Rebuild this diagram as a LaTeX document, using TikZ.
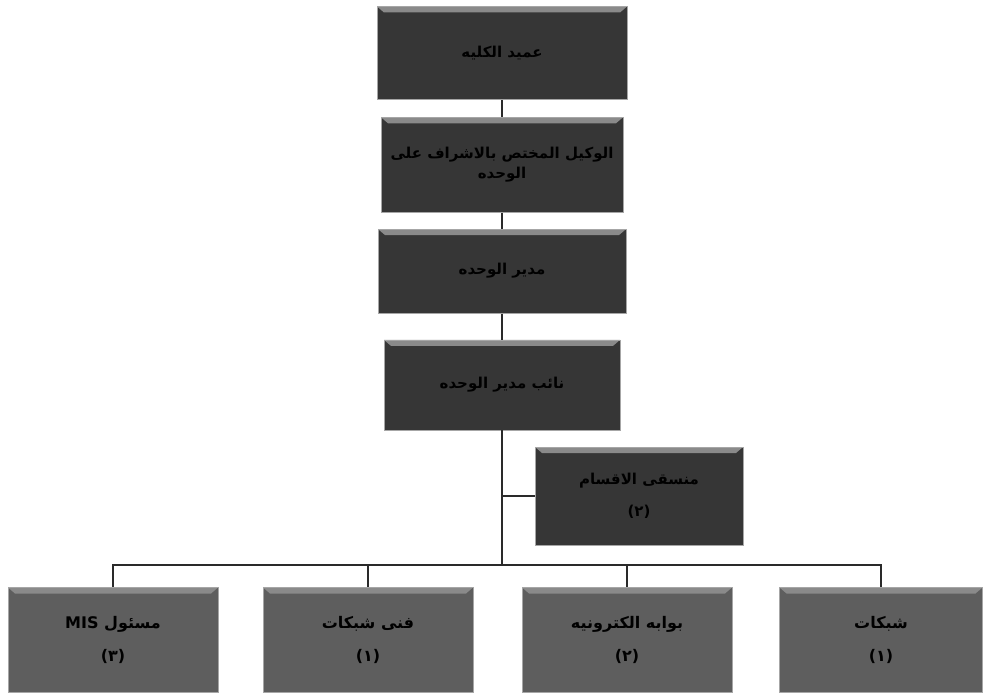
\documentclass[tikz,border=0pt]{standalone}
\usepackage{fontspec}
\newfontfamily\arabicfont[Script=Arabic]{DejaVu Sans}
\TeXXeTstate=1
\usepackage{tikz}
\usetikzlibrary{positioning,calc}
\definecolor{boxdark}{HTML}{363636}
\definecolor{boxmid}{HTML}{5E5E5E}
\definecolor{bevel}{HTML}{8A8A8A}
\definecolor{linedark}{HTML}{2A2A2A}

\begin{document}
\begin{tikzpicture}[
  x=1pt, y=-1pt,
  font=\arabicfont\bfseries\fontsize{15}{20}\selectfont,
  box/.style={draw=gray!70, line width=0.8pt, fill=boxdark, text=black, align=center, inner sep=2pt,
    path picture={\fill[bevel] (path picture bounding box.north west) -- (path picture bounding box.north east)
      -- ([xshift=-7pt,yshift=-6pt]path picture bounding box.north east) -- ([xshift=7pt,yshift=-6pt]path picture bounding box.north west) -- cycle;}},
  unitbox/.style={box, fill=boxmid, minimum width=210pt, minimum height=105pt, font=\arabicfont\bfseries\fontsize{16}{33}\selectfont},
  link/.style={draw=linedark, line width=1.8pt},
  ]
  \useasboundingbox (0,0) rectangle (984,695);

  \node[box, minimum width=250pt, minimum height=93pt] (dean) at (502,53) {\beginR عميد الكليه\endR};
  \node[box, minimum width=242pt, minimum height=95pt, below=17pt of dean] (vice) {\beginR الوكيل المختص بالاشراف على\endR\\\beginR الوحده\endR};
  \node[box, minimum width=248pt, minimum height=84pt, below=16pt of vice] (director) {\beginR مدير الوحده\endR};
  \node[box, minimum width=236pt, minimum height=90pt, below=26pt of director] (deputy) {\beginR نائب مدير الوحده\endR};
  \node[box, minimum width=208pt, minimum height=98pt, font=\arabicfont\bfseries\fontsize{15}{32}\selectfont] (coord) at (639,496) {\beginR منسقى الاقسام\endR\\\beginR (٢)\endR};

  \node[unitbox] (mis)    at (113,640) {\beginR مسئول \beginL MIS\endL\endR\\\beginR (٣)\endR};
  \node[unitbox] (tech)   at (368,640) {\beginR فنى شبكات\endR\\\beginR (١)\endR};
  \node[unitbox] (portal) at (627,640) {\beginR بوابه الكترونيه\endR\\\beginR (٢)\endR};
  \node[unitbox, minimum width=203pt] (net) at (881,640) {\beginR شبكات\endR\\\beginR (١)\endR};

  \coordinate (hook) at (deputy.south |- coord.west);
  \coordinate (bar) at ($(deputy.south |- mis.north) + (0,-22)$);

  \draw[link] (dean) -- (vice);
  \draw[link] (vice) -- (director);
  \draw[link] (director) -- (deputy);
  \draw[link] (deputy) -- (bar);
  \draw[link] (hook) -- (coord);
  \draw[link] (bar) -| (mis);
  \draw[link] (bar) -| (tech);
  \draw[link] (bar) -| (portal);
  \draw[link] (bar) -| (net);
\end{tikzpicture}
\end{document}
